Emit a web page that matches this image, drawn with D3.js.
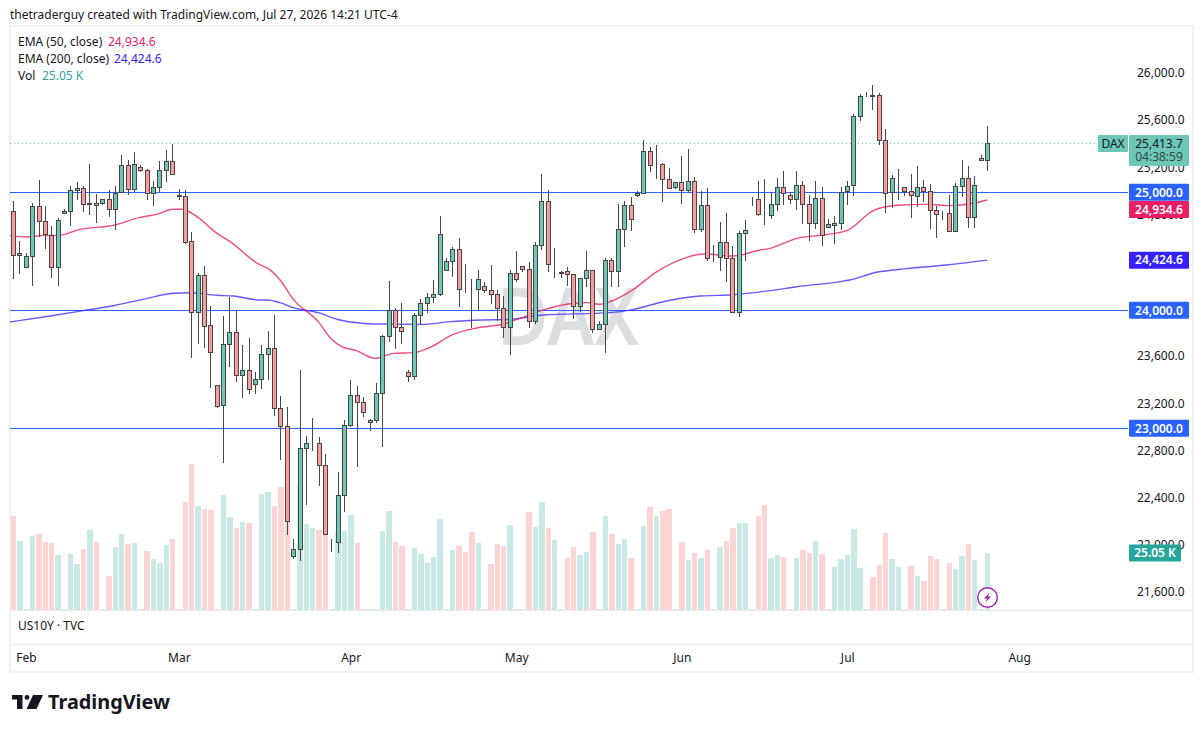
<!DOCTYPE html>
<html>
<head>
<meta charset="utf-8">
<script src="https://cdnjs.cloudflare.com/ajax/libs/d3/7.8.5/d3.min.js"></script>
<style>
  html, body { margin: 0; padding: 0; background: #fff; }
  text { font-family: "Noto Sans", sans-serif; }
</style>
</head>
<body>
<div id="vis"></div>
<script>
// daily bars, Jan 29 to Jul 27
const opens = [
  24839,24466,24364,24457,24881,24754,24635,24364,24822,24839,
  25017,25034,24898,24907,24907,24940,24856,25000,25229,25025,
  25212,25186,24991,25042,25186,25262,24974,24966,24584,23983,
  24296,23873,23364,23195,23712,23813,23449,23491,23373,23415,
  23627,23678,23169,23017,21915,21974,22830,22870,22872,22686,
  22031,22033,22432,23025,23279,23220,23050,23067,23296,23779,
  24000,23856,23474,23440,23957,24059,24110,24135,24339,24415,
  24517,24178,24178,24178,24203,24169,24135,24017,23856,24313,
  24372,24347,23906,24551,24923,24395,24313,24330,24305,24034,
  24271,24339,23839,23881,24423,24330,24686,24890,24974,24991,
  25347,25234,25237,25110,25042,25084,25017,25093,24686,24890,
  24452,24449,24576,24440,23983,24652,24937,24941,24811,24805,
  24898,25042,24975,24941,25059,24898,24737,24949,24703,24720,
  24737,25008,25059,25644,25831,25828,25822,25441,25000,25116,
  25042,25008,24966,25042,25008,24847,24814,24822,24669,25051,
  25119,24788,25288,25271
];
const highs = [
  24926,24587,24483,24907,25101,24881,24712,24779,24856,25051,
  25084,25051,25240,24983,24940,25017,25051,25313,25271,25339,
  25229,25195,25093,25262,25356,25409,25025,25017,24661,24313,
  24373,24034,23364,23949,24110,23997,23703,23762,23474,23706,
  23825,23957,23271,23178,22059,23491,22932,23084,22923,22779,
  22059,22627,23067,23406,23356,23262,23076,23381,23788,24245,
  24017,24059,23491,23974,24093,24144,24254,24796,24440,24534,
  24610,24390,24262,24339,24237,24381,24169,24118,24339,24500,
  24375,24406,24576,25152,25017,24525,24336,24364,24305,24271,
  24500,24339,23906,24440,24440,24898,24923,24957,25008,25440,
  25381,25398,25246,25203,25084,25305,25364,25127,25008,25034,
  24551,24745,24822,24542,24669,24762,24957,25093,25110,25000,
  25119,25178,25000,25178,25093,24975,25093,25042,24771,24797,
  25042,25093,25661,25831,25850,25907,25839,25534,25144,25195,
  25042,25153,25220,25102,25068,24881,24845,24975,25076,25271,
  25220,25136,25314,25559
];
const lows = [
  24268,24310,24364,24209,24624,24522,24277,24209,24822,24717,
  24938,24836,24810,24743,24890,24793,24683,25000,24980,25003,
  25169,24938,24887,25000,25090,25152,24938,24565,23599,23717,
  23683,23344,23175,22709,23522,23395,23260,23293,23293,23336,
  23412,23107,22734,22098,21889,21872,22353,22810,22514,22101,
  21954,21940,22293,23014,22675,23098,22980,23042,22844,23734,
  23675,23717,23395,23406,23873,23980,24065,24118,24339,24285,
  24031,24144,23853,24000,24144,24051,23906,23768,23624,24243,
  24325,23853,23887,24508,24327,24277,24271,24209,23929,23988,
  24200,23810,23839,23641,24200,24195,24534,24675,24963,24991,
  25175,25116,24921,25034,25025,24904,24991,24658,24666,24421,
  24412,24336,24243,23983,23946,24421,24881,24799,24726,24771,
  24845,24895,24904,24853,24734,24590,24692,24548,24703,24565,
  24681,24895,24972,25607,25805,25698,25404,24828,24870,24938,
  24972,24785,24878,24921,24692,24616,24768,24669,24669,24963,
  24700,24700,25271,25184
];
const closes = [
  24466,24483,24457,24881,24754,24644,24364,24762,24839,25017,
  25034,24898,24907,24890,24940,24856,24991,25229,25025,25237,
  25186,24991,25042,25186,25262,25152,24966,24576,23983,24296,
  23864,23644,23186,23712,23813,23449,23491,23330,23415,23627,
  23678,23169,23017,22212,21974,22830,22872,22872,22686,22101,
  22033,22432,23025,23279,23220,23135,23067,23296,23779,24000,
  23856,23822,23440,23957,24059,24110,24135,24644,24415,24517,
  24178,24175,24175,24262,24169,24135,24017,23856,24313,24262,
  24347,23906,24551,24923,24390,24398,24322,24305,24034,24271,
  24339,23839,23881,24423,24330,24686,24890,24771,24991,25347,
  25229,25237,25110,25034,25084,25017,25093,24686,24890,24440,
  24449,24576,24440,23983,24652,24678,24940,24811,24808,24898,
  25042,24992,24941,25059,24898,24737,24949,24636,24729,24737,
  25000,25051,25644,25814,25833,25822,25441,24992,25119,25119,
  25008,24975,25042,25008,24847,24814,24816,24669,25051,25119,
  24788,25059,25271,25414
];
// volume in thousands
const volumes = [
  41.3,30.3,0.5,32.5,33.4,29.9,29.4,24.2,0.5,24.6,
  20.2,26.8,35.2,29.9,0.5,14.9,27.7,33.4,29,29.4,
  0.5,25.9,22.4,20.7,28.6,31.2,0.5,47.5,64.2,45.7,
  44.4,44,0.5,50.5,40.9,36,38.7,38.2,0.5,51,
  51.9,45.7,54.1,49.7,0.5,55.4,37.8,36,35.2,35.2,
  0.5,34.4,34.7,41.8,29.4,0.5,0.5,0.5,34.7,43.5,
  29.9,28.1,0.5,27.2,24.6,20.7,23.3,40,0.5,26.4,
  28.1,25.5,34.3,29.4,0.5,20.2,29,28.1,37.4,0.5,
  0.5,43.1,36.5,47.5,36,30.8,0.5,22.9,27.7,24.2,
  25.5,34.3,0.5,41.3,33.4,29,31.2,22.9,0.5,36.9,
  45.3,41.3,43.5,44.4,0.5,29.9,22,25.1,22.9,26.4,
  0.5,27.7,30.3,36,38.2,38.2,0.5,41.3,46.1,22.9,
  24.2,23.3,0.5,22.9,26.4,25.1,30.3,24.6,0.5,18.9,
  22.4,24.2,35.6,18.5,0.5,14.5,19.8,33.8,22.4,18.9,
  0.5,19.3,14.9,12.7,23.7,22.4,0.5,20.7,18,23.7,
  29,22,0.5,25.05
];

// EMA lines, read at a handful of bars
const ema50Bars = [-0.5,2,5,7,10.5,15.7,19.9,22.5,25.1,26.5,28.8,32,34,38.8,39.8,41.9,44,47.9,50,51.6,53.9,56.8,59.7,62.8,65.7,68.9,72.8,77,79.6,83.3,86.9,90.1,92.2,94,97.4,101.1,105.8,108.4,113.1,117.3,118.9,123.1,127.2,130.9,135.1,138.8,143.5,147.1,150.8,153];
const ema50Vals = [24635,24621,24635,24635,24686,24720,24788,24813,24856,24856,24796,24652,24584,24384,24361,24257,24093,23904,23754,23692,23658,23593,23635,23641,23692,23791,23850,23884,23932,24003,24051,24065,24051,24079,24178,24327,24449,24477,24460,24511,24525,24610,24638,24675,24845,24890,24898,24887,24907,24935];
const ema200Bars = [-0.5,5.8,11,15.7,20.4,25.1,27.8,32,34.6,38.8,39.8,41.9,44,47.9,51.3,57.1,64.4,68.6,73.8,77.5,83.3,93.7,97.4,102.6,107.9,113.1,118.9,123.1,129.9,131.4,135.6,140.3,146.6,153];
const ema200Vals = [23901,23952,23997,24039,24093,24144,24149,24127,24121,24087,24087,24065,24022,23980,23918,23884,23881,23904,23918,23921,23960,23980,24008,24079,24121,24132,24167,24200,24243,24257,24322,24353,24384,24425];

const levels = [25000, 24000, 23000];
const priceTicks = [26000,25600,25200,24800,24400,24000,23600,23200,22800,22400,22000,21600];
const monthLabels = ["Feb","Mar","Apr","May","Jun","Jul","Aug"];
const monthBars = [2,26,53,79,105,131,158];

const lastPrice = 25413.7;
const ema50Last = 24934.6;
const ema200Last = 24424.6;
const volLast = 25.05;

const upCol = "#6ec7b5", downCol = "#fb9c9c", wickCol = "#474747";
const volUp = "#c8e9e5", volDown = "#fbd4d4";
const blue = "#2962ff", pink = "#e91e63", indigo = "#3322ff", teal = "#26a69a";

const W = 1204, H = 732;
const svg = d3.select("#vis").append("svg").attr("width", W).attr("height", H).style("display", "block");

const x = d3.scaleLinear().domain([0, 153]).range([13.3, 987.3]);
const y = d3.scaleLinear().domain([26000, 21600]).range([74.3, 593.5]);
const yVol = d3.scaleLinear().domain([0, 100]).range([610, 382.5]);

const fmt = d3.format(",.1f");
const bars = d3.range(opens.length);
const isUp = (i) => closes[i] >= opens[i];
// bars land on whole pixels
const snap = (i) => Math.floor(x(i) + 0.25) + 0.5;

svg.append("defs").append("clipPath").attr("id", "pane")
  .append("rect").attr("x", 10).attr("y", 27).attr("width", 1118).attr("height", 583);

// header
svg.append("text").attr("x", 10).attr("y", 19).attr("font-size", 12).attr("fill", "#131722")
  .text("thetraderguy created with TradingView.com, Jul 27, 2026 14:21 UTC-4");

// frame
svg.append("rect").attr("x", 10).attr("y", 26).attr("width", 1183).attr("height", 646)
  .attr("fill", "none").attr("stroke", "#f0f1f3").attr("stroke-width", 2);
svg.append("line").attr("x1", 10).attr("x2", 1193).attr("y1", 610.5).attr("y2", 610.5).attr("stroke", "#ececee").attr("stroke-width", 1.5);
svg.append("line").attr("x1", 10).attr("x2", 1193).attr("y1", 644.5).attr("y2", 644.5).attr("stroke", "#ececee").attr("stroke-width", 1.5);

const pane = svg.append("g").attr("clip-path", "url(#pane)");

// watermark
pane.append("text").attr("x", 568).attr("y", 345).attr("text-anchor", "middle")
  .attr("font-size", 80).attr("font-weight", 600).attr("textLength", 142).attr("lengthAdjust", "spacingAndGlyphs")
  .attr("fill", "#dcdee0").text("DAX");

// volume
pane.append("g").attr("shape-rendering", "crispEdges").selectAll("rect").data(bars).join("rect")
  .attr("x", (i) => x(i) - 2.5)
  .attr("width", 5.4)
  .attr("y", (i) => yVol(volumes[i]))
  .attr("height", (i) => yVol(0) - yVol(volumes[i]))
  .attr("fill", (i) => (isUp(i) ? volUp : volDown));

// horizontal levels and last price line
pane.append("g").attr("shape-rendering", "crispEdges").selectAll("line").data(levels).join("line")
  .attr("x1", 10).attr("x2", 1128)
  .attr("y1", (d) => Math.floor(y(d)) + 0.5).attr("y2", (d) => Math.floor(y(d)) + 0.5)
  .attr("stroke", blue).attr("stroke-width", 1);
svg.append("line").attr("x1", 10).attr("x2", 1098)
  .attr("y1", Math.floor(y(lastPrice)) + 0.5).attr("y2", Math.floor(y(lastPrice)) + 0.5)
  .attr("stroke", "#6ec7b5").attr("stroke-width", 1).attr("stroke-dasharray", "1 3");

// EMAs
const emaLine = d3.line().x((d) => x(d[0])).y((d) => y(d[1])).curve(d3.curveMonotoneX);
pane.append("path").attr("d", emaLine(d3.zip(ema200Bars, ema200Vals)))
  .attr("fill", "none").attr("stroke", indigo).attr("stroke-opacity", 0.75).attr("stroke-width", 1.4);
pane.append("path").attr("d", emaLine(d3.zip(ema50Bars, ema50Vals)))
  .attr("fill", "none").attr("stroke", pink).attr("stroke-opacity", 0.8).attr("stroke-width", 1.4);

// candles
const candles = pane.append("g").attr("shape-rendering", "crispEdges").selectAll("g").data(bars).join("g");
candles.append("line")
  .attr("x1", (i) => snap(i)).attr("x2", (i) => snap(i))
  .attr("y1", (i) => y(highs[i])).attr("y2", (i) => y(lows[i]))
  .attr("stroke", wickCol).attr("stroke-width", 1);
candles.append("rect")
  .attr("x", (i) => snap(i) - 2)
  .attr("width", 4)
  .attr("y", (i) => Math.round(y(Math.max(opens[i], closes[i]))) + 0.5)
  .attr("height", (i) => Math.round(Math.abs(y(opens[i]) - y(closes[i]))))
  .attr("fill", (i) => (isUp(i) ? upCol : downCol))
  .attr("stroke", wickCol).attr("stroke-width", 1);

// price axis
const yAxis = svg.append("g").attr("transform", "translate(1130,-1.5)")
  .call(d3.axisRight(y).tickValues(priceTicks).tickSize(0).tickPadding(7).tickFormat(fmt));
yAxis.select(".domain").remove();
yAxis.selectAll("text").attr("font-size", 12).attr("font-family", "'Noto Sans', sans-serif").attr("fill", "#131722");

// time axis
const xAxis = svg.append("g").attr("transform", "translate(0,650)")
  .call(d3.axisBottom(x).tickValues(monthBars).tickSize(0).tickPadding(3).tickFormat((d, i) => monthLabels[i]));
xAxis.select(".domain").remove();
xAxis.selectAll("text").attr("font-size", 12).attr("font-family", "'Noto Sans', sans-serif").attr("fill", "#131722");

// tags on the axis
function tag(px, label, col, txt, w) {
  svg.append("rect").attr("x", 1129).attr("y", px - 8.5).attr("width", w || 60).attr("height", 17).attr("rx", 1).attr("fill", col);
  svg.append("text").attr("x", 1129 + (w || 60) / 2).attr("y", px + 4.2).attr("text-anchor", "middle")
    .attr("font-size", 12).attr("font-weight", 600).attr("fill", txt).text(label);
}
levels.forEach((d) => tag(y(d), fmt(d), blue, "#fff"));
// the ema50 tag gets pushed below the 25,000 tag
tag(y(ema50Last) + 9.5, fmt(ema50Last), pink, "#fff");
tag(y(ema200Last), fmt(ema200Last), indigo, "#fff");
tag(yVol(volLast), volLast + " K", teal, "#fff", 52);

// last price tag with countdown
svg.append("rect").attr("x", 1098).attr("y", 135).attr("width", 30).attr("height", 17).attr("rx", 1).attr("fill", upCol);
svg.append("text").attr("x", 1113).attr("y", 148).attr("text-anchor", "middle").attr("font-size", 12).attr("fill", "#131722").text("DAX");
svg.append("rect").attr("x", 1129).attr("y", 135).attr("width", 60).attr("height", 31).attr("rx", 1).attr("fill", upCol);
svg.append("text").attr("x", 1159).attr("y", 148).attr("text-anchor", "middle").attr("font-size", 12).attr("fill", "#131722").text(fmt(lastPrice));
svg.append("text").attr("x", 1159).attr("y", 161).attr("text-anchor", "middle").attr("font-size", 12).attr("fill", "#2c4a45").text("04:38:59");

// legend
const legendRows = [
  { label: "EMA (50, close)", value: fmt(ema50Last), col: pink, top: 46, vx: 108 },
  { label: "EMA (200, close)", value: fmt(ema200Last), col: indigo, top: 63, vx: 114 },
  { label: "Vol", value: volLast + " K", col: "#2aa598", top: 80, vx: 42 },
];
legendRows.forEach((r) => {
  svg.append("text").attr("x", 18).attr("y", r.top).attr("font-size", 12).attr("fill", "#131722").text(r.label);
  svg.append("text").attr("x", r.vx).attr("y", r.top).attr("font-size", 12).attr("fill", r.col).text(r.value);
});
svg.append("text").attr("x", 18).attr("y", 630).attr("font-size", 12).attr("fill", "#131722").text("US10Y · TVC");

// lightning marker
const bolt = svg.append("g").attr("transform", "translate(987.5,597.5)");
bolt.append("circle").attr("r", 9.8).attr("fill", "#fff").attr("stroke", "#9c27b0").attr("stroke-width", 1.4);
bolt.append("path").attr("d", "M2,-5 L-3.5,1 L-0.5,1 L-2,5 L3.5,-1 L0.5,-1 Z").attr("fill", "#9c27b0");

// logo
const logo = svg.append("g").attr("transform", "translate(12,695)").attr("fill", "#131722");
logo.append("path").attr("d", "M0,0 H10.5 V14 H5 V4.5 H0 Z");
logo.append("circle").attr("cx", 15).attr("cy", 2.4).attr("r", 2.4);
logo.append("path").attr("d", "M21,0 H31 L24.5,14 H14.5 Z");
svg.append("text").attr("x", 48).attr("y", 709).attr("font-size", 20).attr("font-weight", 700)
  .attr("textLength", 122).attr("lengthAdjust", "spacingAndGlyphs")
  .attr("font-family", "Inter, sans-serif").attr("fill", "#131722").text("TradingView");
</script>
</body>
</html>
